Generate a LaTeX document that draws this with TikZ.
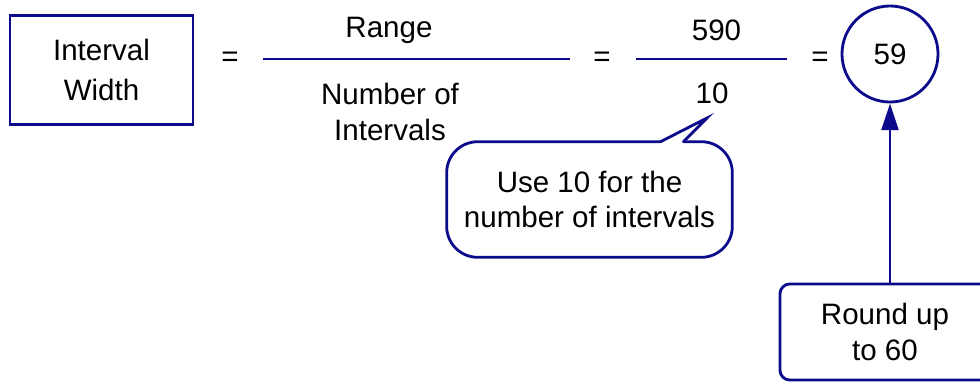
\documentclass[tikz,border=0pt]{standalone}
\usepackage{fontspec}
\setmainfont{Liberation Sans}
\usetikzlibrary{arrows.meta,positioning,calc}
\definecolor{Navy}{HTML}{0B0B8C}

\begin{document}
\begin{tikzpicture}[x=0.025cm,y=-0.025cm,
  every node/.style={font=\fontsize{21}{25.5}\selectfont,align=center,inner sep=0pt},
  navyline/.style={draw=Navy,line width=2pt},
  textbox/.style={navyline,minimum width=#1},
  bar/.style={Navy,line width=2pt}]
  \useasboundingbox (0,0) rectangle (980,383);
  % left-hand side
  \node[textbox=4.575cm,minimum height=2.725cm,font=\fontsize{21}{29}\selectfont] (width) at (101.5,70) {Interval\\Width};
  \node (eq1) at (230,59) {=};
  % first fraction
  \coordinate (bar1l) at (263,59);
  \coordinate (bar1r) at (570,59);
  \draw[bar] (bar1l) -- (bar1r);
  \node (range) at (389,30) {Range};
  \node (number) at (390,112) {Number of\\Intervals};
  \node (eq2) at (602,59) {=};
  % second fraction
  \coordinate (bar2l) at (636,59);
  \coordinate (bar2r) at (787,59);
  \draw[bar] (bar2l) -- (bar2r);
  \node (num) at (716.5,30) {590};
  \node (den) at (712,93.5) {10};
  \node (eq3) at (820,59) {=};
  \node[navyline,circle,minimum size=2.4cm] (result) at (890,54) {59};
  % notes
  \node[minimum width=7.125cm,minimum height=2.875cm] (note) at (589.5,199.5) {Use 10 for the\\number of intervals};
  \coordinate (tip) at (707,118);
  \coordinate (gapl) at ($(note.north)+(71,0)$);
  \coordinate (gapr) at ($(note.north)+(94,0)$);
  \draw[navyline,line cap=round,rounded corners=22pt] (gapl) -- (note.north west) -- (note.south west)
    -- (note.south east) -- (note.north east) -- (gapr);
  \draw[navyline,line cap=round,line join=miter] (gapl) -- (tip) -- (gapr);
  \node[textbox=5.25cm,minimum height=2.4cm,rounded corners=7pt] (round) at (885,332) {Round up\\to 60};
  \draw[navyline,-{Triangle[length=19pt,width=12pt]}] (round.north -| result.south) -- (result.south);
\end{tikzpicture}
\end{document}
